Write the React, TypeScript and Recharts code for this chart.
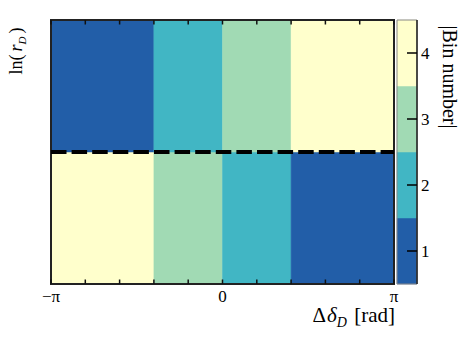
import { ComposedChart, XAxis, YAxis, ReferenceArea, ReferenceLine } from 'recharts';

const PI = Math.PI;

// bin edges in delta-delta_D (rad), two rows in ln(r_D)
const xEdges = [-PI, -0.4 * PI, 0, 0.4 * PI, PI];
const rowEdges = [0, 1, 2];
const lowerRowBins = [4, 3, 2, 1];
const upperRowBins = [1, 2, 3, 4];
const rowBins = [lowerRowBins, upperRowBins];

const binNumbers = [1, 2, 3, 4];
const binColors = ['#225ea8', '#41b6c4', '#a1dab4', '#ffffcc'];

const xMinorTicks = [-1, -0.8, -0.6, -0.4, -0.2, 0, 0.2, 0.4, 0.6, 0.8, 1].map((v) => v * PI);
const xLabelTicks = [-PI, 0, PI];
const xTickLabels = ['\u2212\u03c0', '0', '\u03c0'];
const dividerRow = 1;

const FONT = '"Liberation Serif", "Times New Roman", serif';
const W = 464;
const H = 338;

const cells = rowBins.flatMap((bins, r) =>
  bins.map((bin, c) => ({
    x1: xEdges[c],
    x2: xEdges[c + 1],
    y1: rowEdges[r],
    y2: rowEdges[r + 1],
    bin,
  })),
);

const axisData = [
  { x: xEdges[0], y: rowEdges[0] },
  { x: xEdges[xEdges.length - 1], y: rowEdges[rowEdges.length - 1] },
];
const barData = binNumbers.map((b) => ({ b: 0.5, v: b }));

const labelFor = (v: number) => {
  const i = xLabelTicks.findIndex((t) => Math.abs(t - v) < 1e-6);
  return i >= 0 ? xTickLabels[i] : '';
};

const txt = { fontFamily: FONT, fill: '#000' };

function BottomTick(props: any) {
  const { x, y, payload } = props;
  const text = labelFor(payload.value);
  return (
    <g>
      <line x1={x} x2={x} y1={y} y2={y - 4.5} stroke="#111" strokeWidth={1.5} />
      {text && (
        <text x={x} y={y + 18} textAnchor="middle" fontSize={17} style={txt}>
          {text}
        </text>
      )}
    </g>
  );
}

function TopTick(props: any) {
  const { x, y } = props;
  return <line x1={x} x2={x} y1={y} y2={y + 4.5} stroke="#111" strokeWidth={1.5} />;
}

function BarTick(props: any) {
  const { x, y, payload } = props;
  return (
    <g>
      <line x1={x - 10} x2={x} y1={y} y2={y} stroke="#000" strokeWidth={1.5} />
      <text x={x + 4} y={y + 6} textAnchor="start" fontSize={17} style={txt}>
        {payload.value}
      </text>
    </g>
  );
}

function XTitle() {
  return (
    <text x={395} y={322} textAnchor="end" fontSize={21} style={txt}>
      Δ<tspan fontStyle="italic" dx={1}>δ</tspan>
      <tspan fontStyle="italic" fontSize={14} dy={5}>D</tspan>
      <tspan dy={-5} dx={2}> [rad]</tspan>
    </text>
  );
}

function YTitle() {
  return (
    <text
      x={22}
      y={51}
      transform="rotate(-90 22 51)"
      textAnchor="middle"
      fontSize={18}
      style={txt}
    >
      ln(<tspan fontStyle="italic" dx={3}>r</tspan>
      <tspan fontStyle="italic" fontSize={11} dy={4}>D</tspan>
      <tspan dy={-4} dx={3}>)</tspan>
    </text>
  );
}

function BarTitle() {
  return (
    <text
      x={443}
      y={77}
      transform="rotate(90 443 77)"
      textAnchor="middle"
      fontSize={20}
      style={txt}
    >
      |Bin number|
    </text>
  );
}

export default function App() {
  return (
    <div style={{ position: 'absolute', left: 0, top: 0, width: W, height: H, background: '#fff' }}>
      <div style={{ position: 'absolute', left: 0, top: 0 }}>
        <ComposedChart
          width={W}
          height={H}
          data={axisData}
          margin={{ top: 10, right: 70, bottom: 24, left: 11 }}
        >
          <XAxis
            dataKey="x"
            type="number"
            domain={[-PI, PI]}
            allowDataOverflow
            ticks={xMinorTicks}
            interval={0}
            tickLine={false}
            axisLine={false}
            tickSize={0}
            tickMargin={0}
            height={30}
            tick={<BottomTick />}
            label={XTitle}
          />
          <XAxis
            xAxisId="top"
            orientation="top"
            dataKey="x"
            type="number"
            domain={[-PI, PI]}
            allowDataOverflow
            ticks={xMinorTicks}
            interval={0}
            tickLine={false}
            axisLine={false}
            tickSize={0}
            tickMargin={0}
            height={10}
            tick={<TopTick />}
          />
          <YAxis
            dataKey="y"
            type="number"
            domain={[0, 2]}
            allowDataOverflow
            width={40}
            tick={false}
            tickLine={false}
            axisLine={false}
            label={YTitle}
          />
          {cells.map((c, i) => (
            <ReferenceArea
              key={`cell-${i}`}
              x1={c.x1}
              x2={c.x2}
              y1={c.y1}
              y2={c.y2}
              fill={binColors[c.bin - 1]}
              fillOpacity={1}
              stroke={binColors[c.bin - 1]}
              strokeWidth={0.5}
              ifOverflow="visible"
            />
          ))}
          <ReferenceLine
            y={dividerRow}
            stroke="#000"
            strokeWidth={4}
            strokeDasharray="15.5 5.1"
            ifOverflow="visible"
          />
          <ReferenceArea
            x1={-PI}
            x2={PI}
            y1={0}
            y2={2}
            fill="none"
            stroke="#222"
            strokeWidth={2}
            ifOverflow="visible"
          />
        </ComposedChart>
      </div>
      <div style={{ position: 'absolute', left: 0, top: 0 }}>
        <ComposedChart
          width={W}
          height={H}
          data={barData}
          margin={{ top: 20, right: 7, bottom: 54, left: 397 }}
        >
          <XAxis dataKey="b" type="number" domain={[0, 1]} allowDataOverflow hide />
          <YAxis
            dataKey="v"
            orientation="right"
            type="number"
            domain={[0.5, 4.5]}
            allowDataOverflow
            ticks={binNumbers}
            interval={0}
            width={40}
            tickSize={0}
            tickMargin={0}
            tickLine={false}
            axisLine={false}
            tick={<BarTick />}
            label={BarTitle}
          />
          {binNumbers.map((b, i) => (
            <ReferenceArea
              key={`bar-${b}`}
              x1={0}
              x2={1}
              y1={b - 0.5}
              y2={b + 0.5}
              fill={binColors[i]}
              fillOpacity={1}
              stroke={binColors[i]}
              strokeWidth={0.5}
              ifOverflow="visible"
            />
          ))}
          <ReferenceArea
            x1={0}
            x2={1}
            y1={0.5}
            y2={4.5}
            fill="none"
            stroke="#888"
            strokeWidth={1}
            ifOverflow="visible"
          />
          <ReferenceLine x={1} stroke="#222" strokeWidth={1.5} ifOverflow="visible" />
        </ComposedChart>
      </div>
    </div>
  );
}
